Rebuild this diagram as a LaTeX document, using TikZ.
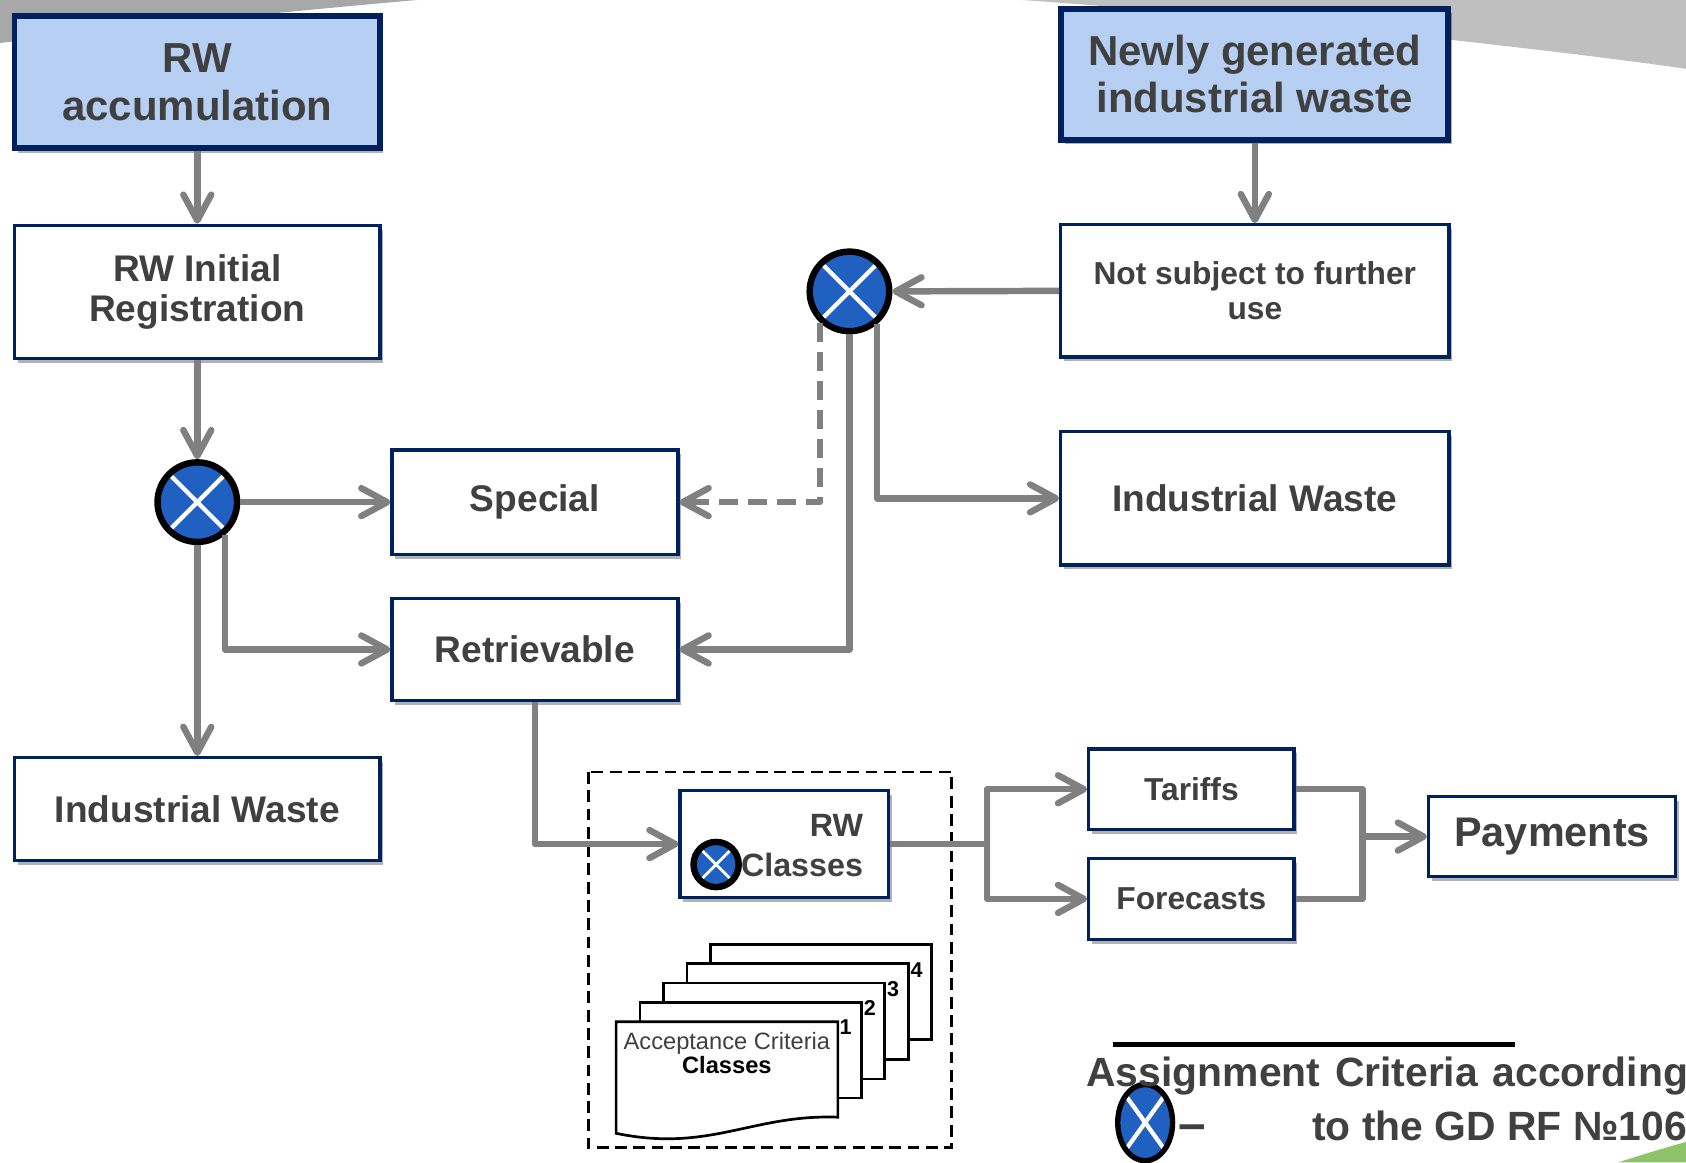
\documentclass[tikz,border=0pt]{standalone}
\usepackage{fontspec}
\setmainfont{Liberation Sans}
\usetikzlibrary{arrows.meta,shadows,shapes.geometric,calc}
\definecolor{navy}{RGB}{0,32,96}
\definecolor{lblue}{RGB}{182,207,242}
\definecolor{tgrey}{RGB}{64,64,64}
\definecolor{cgrey}{RGB}{128,128,128}
\definecolor{xblue}{RGB}{32,96,192}
\definecolor{swleft}{RGB}{168,168,168}
\definecolor{swright}{RGB}{191,191,191}
\definecolor{lgreen}{RGB}{142,195,106}
\begin{document}
\begin{tikzpicture}[x=0.5pt,y=-0.5pt,
  >={Straight Barb[length=12pt,width=13pt,round]},
  shade/.style={drop shadow={shadow xshift=1.5pt,shadow yshift=-2pt,opacity=0.3,fill=black}},
  wbox/.style={draw=navy,line width=1.5pt,fill=white,inner sep=0pt,align=center,text=tgrey,shade},
  bbox/.style={draw=navy,line width=2.75pt,fill=lblue,inner sep=0pt,align=center,text=tgrey,shade},
  fbig/.style={font=\bfseries\fontsize{19.5}{22}\selectfont},
  fmid/.style={font=\bfseries\fontsize{17.25}{18.5}\selectfont},
  fsml/.style={font=\bfseries\fontsize{14.75}{16.5}\selectfont},
  conn/.style={draw=cgrey,line width=3pt,line join=round},
  dconn/.style={conn,dash pattern=on 9pt off 4.5pt},
  xsel/.style={circle,draw=black,fill=xblue,inner sep=0pt,line width=3pt,minimum size=37pt,
    path picture={\draw[white,line width=2pt]
      (path picture bounding box.south west) -- (path picture bounding box.north east)
      (path picture bounding box.north west) -- (path picture bounding box.south east);}},
  xsmall/.style={xsel,minimum size=21pt,
    path picture={\draw[white,line width=1.25pt]
      (path picture bounding box.south west) -- (path picture bounding box.north east)
      (path picture bounding box.north west) -- (path picture bounding box.south east);}},
  page/.style={draw=black,line width=1.25pt,fill=white,line join=miter},
  legtext/.style={anchor=base west,inner sep=0pt,text=tgrey,font=\bfseries\fontsize{19}{25}\selectfont},
]
\useasboundingbox (0,0) rectangle (1568,1081);
\clip (0,0) rectangle (1568,1081);

% background swooshes
\fill[swleft] (0,0) -- (388,0) .. controls (250,12) and (100,28) .. (0,40) -- cycle;
\fill[swright] (950,0) -- (1568,0) -- (1568,64) .. controls (1400,40) and (1100,10) .. (950,0) -- cycle;
\fill[lgreen] (1505,1081) .. controls (1530,1073) and (1550,1067) .. (1568,1062) -- (1568,1081) -- cycle;

% boxes
\node[bbox,fbig,minimum width=170pt,minimum height=61.5pt] (acc) at (183.5,76.5) {RW\\accumulation};
\node[bbox,fbig,minimum width=180pt,minimum height=61pt] (newly) at (1167,69) {Newly generated\\industrial waste};
\node[wbox,fmid,minimum width=170pt,minimum height=62pt] (reg) at (183.5,271.5) {RW Initial\\Registration};
\node[wbox,fmid,minimum width=133pt,minimum height=48.5pt] (special) at (497.5,467) {Special};
\node[wbox,fmid,minimum width=133pt,minimum height=47.5pt] (retr) at (497.5,604) {Retrievable};
\node[wbox,fmid,minimum width=170pt,minimum height=48pt] (iwl) at (183.5,752.5) {Industrial Waste};
\node[wbox,fsml,minimum width=180.5pt,minimum height=61.5pt] (notsub) at (1167,270.5) {Not subject to further\\use};
\node[wbox,fmid,minimum width=180.5pt,minimum height=62pt] (iwr) at (1167,463.5) {Industrial Waste};

% decision circles
\node[xsel] (c1) at (183.5,467) {};
\node[xsel] (c2) at (790,271) {};

% dashed frame with RW classes and documents
\draw[black,line width=1.3pt,dash pattern=on 5.5pt off 3pt] (547,718) rectangle (885,1067);
\node[wbox,minimum width=97pt,minimum height=49.5pt] (classes) at (729.5,785) {};
\node[anchor=east,align=right,inner sep=0pt,text=tgrey,font=\bfseries\fontsize{15}{18.5}\selectfont] (classtxt) at (803,786.5) {RW\\Classes};
\node[xsmall] (clsx) at (666,804) {};

\draw[page] (660.5,878.2) rectangle (866.5,967);
\draw[page] (638.8,896.3) rectangle (844.7,985.4);
\draw[page] (617,914.3) rectangle (822.3,1003.4);
\draw[page] (595.3,932.6) rectangle (801,1021.1);
\draw[page] (573,950.3) -- (779.2,950.3) -- (779.2,1039) .. controls (700,1036) and (660,1072) .. (573,1054) -- cycle;
\node[font=\bfseries\fontsize{10}{12}\selectfont,inner sep=0pt] (n1) at (786.3,955.3) {1};
\node[font=\bfseries\fontsize{10}{12}\selectfont,inner sep=0pt] (n2) at (809,937.6) {2};
\node[font=\bfseries\fontsize{10}{12}\selectfont,inner sep=0pt] (n3) at (830.7,920) {3};
\node[font=\bfseries\fontsize{10}{12}\selectfont,inner sep=0pt] (n4) at (852.5,902.5) {4};
\node[anchor=base,inner sep=0pt,text=tgrey,font=\fontsize{11}{13}\selectfont] (acrit) at (676,976.5) {Acceptance Criteria};
\node[anchor=base,inner sep=0pt,font=\bfseries\fontsize{11}{13}\selectfont] (aclass) at (676,997.9) {Classes};

% right part
\node[wbox,fsml,minimum width=95.5pt,minimum height=37.5pt] (tariffs) at (1108,734) {Tariffs};
\node[wbox,fsml,minimum width=95.5pt,minimum height=37.5pt] (forecasts) at (1108,836) {Forecasts};
\node[wbox,font=\bfseries\fontsize{19.25}{22}\selectfont,minimum width=115pt,minimum height=37.5pt] (payments) at (1443.5,778) {Payments};

% connectors
\draw[conn,->] (acc.south) -- (reg.north);
\draw[conn,->] (reg.south) -- (c1.north);
\draw[conn,->] (c1.east) -- (special.west);
\draw[conn,->] (c1.south) -- (iwl.north);
\draw[conn,->] (c1.-50) |- (retr.west);
\draw[dconn,->] (c2.-133) |- (special.east);
\draw[conn,->] (c2.south) |- (retr.east);
\draw[conn,->] (c2.-50) |- (iwr.west);
\draw[conn,->] (newly.south) -- (notsub.north);
\draw[conn,->] (notsub.west) -- (c2.east);
\draw[conn,->] (retr.south) |- (classes.west);
\coordinate (split) at (918,785);
\draw[conn] (classes.east) -- (split);
\draw[conn,->] (split) |- (tariffs.west);
\draw[conn,->] (split) |- (forecasts.west);
\coordinate (mj) at (1267,778);
\draw[conn] (tariffs.east) -| (mj) |- (forecasts.east);
\draw[conn,->] (mj) -- (payments.west);

% legend
\draw[black,line width=2.5pt] (1035,971.5) -- (1409,971.5);
\node[ellipse,draw=black,fill=xblue,inner sep=0pt,line width=2.5pt,minimum width=25.5pt,minimum height=35.5pt,
  path picture={\draw[white,line width=2pt]
      (path picture bounding box.south west) -- (path picture bounding box.north east)
      (path picture bounding box.north west) -- (path picture bounding box.south east);}] (legx) at (1065,1044) {};
\node[legtext] (leg1) at (1010,1010) {\spaceskip=0.36em Assignment Criteria according};
\node[legtext,font=\bfseries\fontsize{23}{25}\selectfont] (legdash) at (1096,1061) {–};
\node[legtext] (leg2) at (1220,1061) {to the GD RF №1069};
\end{tikzpicture}
\end{document}
